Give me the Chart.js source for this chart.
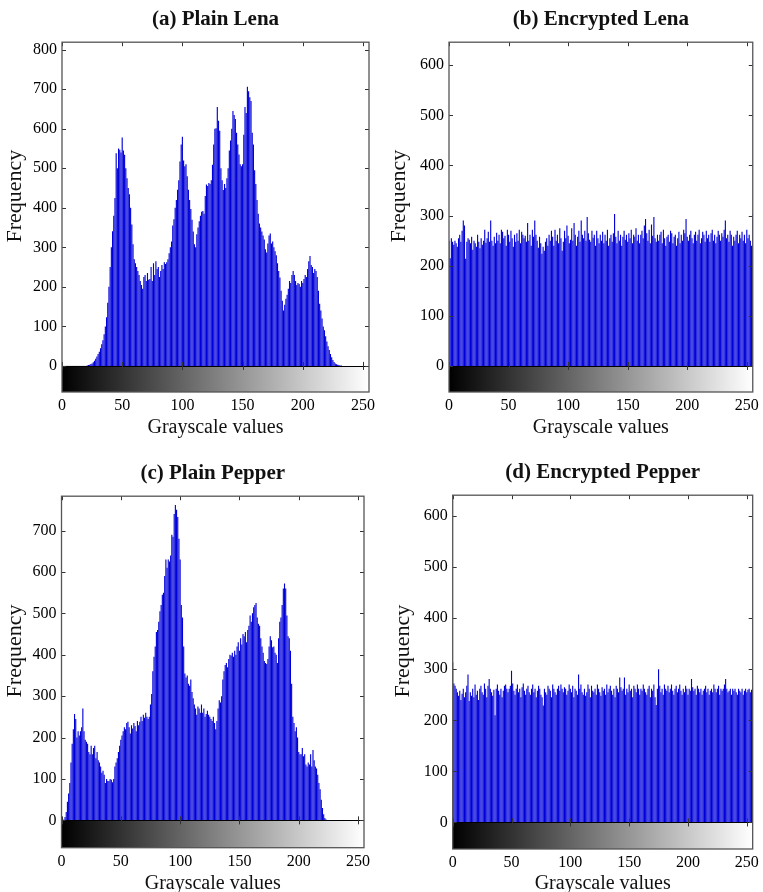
<!DOCTYPE html>
<html><head><meta charset="utf-8">
<script src="https://cdn.jsdelivr.net/npm/chart.js@4.4.1/dist/chart.umd.min.js"></script>
<style>
html,body{margin:0;padding:0;background:#fff;overflow:hidden;width:763px;height:892px;}
.panel{position:absolute;}
</style></head><body>
<div class="panel" style="left:0px;top:0px;width:381px;height:446px"><canvas id="ca"></canvas></div>
<div class="panel" style="left:381px;top:0px;width:382px;height:446px"><canvas id="cb"></canvas></div>
<div class="panel" style="left:0px;top:446px;width:381px;height:456px"><canvas id="cc"></canvas></div>
<div class="panel" style="left:381px;top:446px;width:382px;height:456px"><canvas id="cd"></canvas></div>
<script>
// ---------- data ----------
const grayLevels = Array.from({length: 256}, (_, i) => i);   // categories 0..255
const xTickValues = [0, 50, 100, 150, 200, 250];
const yTicksA = [0, 100, 200, 300, 400, 500, 600, 700, 800];
const yTicksB = [0, 100, 200, 300, 400, 500, 600];
const yTicksC = [0, 100, 200, 300, 400, 500, 600, 700];
const yTicksD = [0, 100, 200, 300, 400, 500, 600];
const titles = ['(a) Plain Lena', '(b) Encrypted Lena', '(c) Plain Pepper', '(d) Encrypted Pepper'];
const xTitle = 'Grayscale values';
const yTitle = 'Frequency';

const plainLena = [
  0,0,0,0,0,0,0,0,0,0,0,0,0,0,0,0,
  0,0,0,0,0,1,2,3,5,6,9,13,18,24,30,36,
  45,55,65,80,100,123,160,200,250,300,341,380,425,538,500,550,
  547,540,578,545,534,500,475,450,434,400,358,308,270,260,250,240,
  230,215,205,195,225,230,215,235,218,220,250,215,260,230,265,245,
  250,225,240,255,245,262,258,262,270,285,300,315,355,371,400,420,
  446,470,517,560,580,520,505,510,480,446,420,397,370,340,308,300,
  333,350,366,380,390,392,385,430,459,455,463,460,470,509,560,600,
  601,655,620,595,500,470,445,460,450,475,500,545,570,600,645,635,
  625,590,560,535,510,505,510,585,655,640,706,695,680,670,590,560,
  495,460,420,385,360,350,340,330,320,295,287,310,330,335,310,315,
  300,290,280,260,240,224,190,165,140,155,170,180,195,215,210,230,
  240,230,215,205,210,207,200,215,210,220,230,225,245,265,278,255,
  250,235,245,240,225,190,157,140,120,100,90,75,62,50,40,30,
  22,15,10,6,4,3,2,1,1,0,0,0,0,0,0,0,
  0,0,0,0,0,0,0,0,0,0,0,0,0,0,0,0
];
const encryptedLena = [
  250,215,255,248,242,250,245,238,255,262,248,270,290,280,214,248,
  255,252,245,258,232,250,245,238,262,248,235,255,242,250,272,246,
  255,268,248,290,250,240,258,245,266,250,262,245,272,268,255,260,
  240,272,262,248,270,255,238,262,248,265,250,272,245,268,262,255,
  260,248,285,250,262,240,272,258,290,262,250,236,258,245,224,238,
  230,248,255,240,262,250,270,258,240,272,250,262,245,275,255,230,
  248,270,255,280,260,245,252,275,250,285,262,240,258,270,248,290,
  262,255,270,250,297,265,252,248,270,256,262,240,270,255,245,262,
  250,268,245,262,250,272,240,255,262,248,265,303,258,245,270,250,
  262,240,258,270,252,262,248,265,255,272,245,262,258,275,250,262,
  245,262,270,255,280,293,265,250,272,245,282,260,297,255,248,262,
  250,262,268,245,272,255,240,258,262,248,270,265,245,258,262,240,
  255,268,245,262,250,272,265,293,258,250,262,270,255,245,262,268,
  250,262,272,245,255,268,262,248,270,255,262,248,265,272,250,262,
  245,258,270,262,250,265,258,272,290,255,262,248,270,262,240,258,
  250,262,270,245,262,255,268,250,262,245,272,255,262,250,240,303
];
const plainPepper = [
  0,0,2,8,20,45,65,90,140,185,220,257,245,200,215,205,
  215,225,270,215,195,190,185,165,160,180,160,175,180,150,165,145,
  140,130,115,120,110,90,100,95,95,100,98,92,100,130,140,150,
  165,180,195,205,215,225,220,235,238,225,210,230,222,235,228,215,
  240,230,238,250,240,255,248,260,250,245,250,280,305,360,395,420,
  455,460,480,505,520,545,550,590,630,610,630,625,640,690,685,740,
  762,750,733,680,630,520,490,420,355,345,350,330,325,340,310,295,
  280,270,255,275,270,260,280,260,270,250,257,265,255,250,245,240,
  250,235,220,240,270,290,285,300,340,360,375,380,370,390,400,398,
  405,395,410,400,420,430,410,440,425,450,445,455,430,460,470,495,
  480,500,515,520,525,490,475,470,440,420,405,385,380,378,390,420,
  445,435,418,420,405,400,380,440,480,490,520,560,572,560,495,445,
  440,410,330,250,235,215,225,200,165,160,160,175,155,160,135,130,
  140,135,160,130,170,145,130,125,110,90,75,50,30,15,6,2,
  0,0,0,0,0,0,0,0,0,0,0,0,0,0,0,0,
  0,0,0,0,0,0,0,0,0,0,0,0,0,0,0,0
];
const encryptedPepper = [
  314,272,268,262,255,248,258,240,252,262,245,255,268,290,238,255,
  248,262,245,270,250,258,240,262,268,255,250,272,262,245,268,281,
  262,255,248,260,210,262,270,258,250,262,245,258,268,270,262,255,
  262,268,297,272,258,250,262,270,255,262,245,265,272,258,250,262,
  268,255,250,262,270,255,262,245,258,268,262,250,245,229,262,255,
  250,268,262,258,245,270,262,255,250,262,268,258,270,262,255,265,
  262,250,258,270,262,255,268,245,262,258,250,290,262,270,255,250,
  262,248,255,270,262,245,268,258,255,262,250,270,262,255,248,265,
  258,262,250,270,255,262,268,258,250,262,245,268,262,255,284,265,
  258,262,284,250,262,255,270,258,262,245,268,262,255,270,262,250,
  262,258,270,262,255,250,262,268,245,262,258,270,245,230,262,300,
  268,255,262,250,270,262,258,268,255,262,270,258,250,262,268,255,
  262,270,258,250,262,255,268,262,250,262,258,281,265,258,262,250,
  268,262,255,262,250,258,262,268,255,262,250,258,262,255,270,262,
  255,262,268,250,262,258,262,270,281,262,255,258,262,250,262,258,
  262,255,250,262,258,255,262,250,258,262,255,260,262,255,260,265
];

// ---------- drawing ----------
const SERIF = '"Liberation Serif","Times New Roman",serif';

const framePlugin = {
  id: 'frame',
  beforeDatasetsDraw(chart) {
    const {ctx, chartArea: a, scales: {x, y}} = chart;
    const y0 = y.getPixelForValue(0);
    const x0 = x.getPixelForValue(grayLevels[0]);
    const x1 = x.getPixelForValue(grayLevels[grayLevels.length - 1]);
    const g = ctx.createLinearGradient(x0, 0, x1, 0);
    g.addColorStop(0, '#000000');
    g.addColorStop(1, '#ffffff');
    ctx.save();
    ctx.fillStyle = g;
    ctx.fillRect(a.left, y0, a.right - a.left, a.bottom - y0);
    ctx.restore();
  },
  afterDatasetsDraw(chart) {
    const {ctx, chartArea: a, scales: {x, y}} = chart;
    const y0 = y.getPixelForValue(0);
    ctx.save();
    ctx.lineWidth = 1;
    ctx.strokeStyle = '#000';
    ctx.beginPath();
    ctx.moveTo(a.left, Math.round(y0) + 0.5);
    ctx.lineTo(a.right, Math.round(y0) + 0.5);
    ctx.stroke();
    ctx.strokeStyle = '#333';
    ctx.beginPath();
    x.ticks.forEach(t => {
      const px = Math.round(x.getPixelForValue(t.value)) + 0.5;
      ctx.moveTo(px, a.top); ctx.lineTo(px, a.top + 4);
      ctx.moveTo(px, y0 - 4); ctx.lineTo(px, y0 + 4);
    });
    y.ticks.forEach(t => {
      if (t.value < 0) return;
      const py = Math.round(y.getPixelForValue(t.value)) + 0.5;
      ctx.moveTo(a.left, py); ctx.lineTo(a.left + 4, py);
      ctx.moveTo(a.right, py); ctx.lineTo(a.right - 4, py);
    });
    ctx.stroke();
    ctx.strokeStyle = '#555';
    ctx.lineWidth = 1.3;
    ctx.strokeRect(a.left, a.top, a.right - a.left, a.bottom - a.top);
    ctx.restore();
  },
  afterDraw(chart) {
    // y-axis title, placed slightly above the axis centre as in the original figure
    const {ctx, chartArea: a} = chart;
    const lay = chart.options.plugins.frame;
    ctx.save();
    ctx.font = '22px ' + SERIF;
    ctx.fillStyle = '#111';
    ctx.textAlign = 'center';
    ctx.textBaseline = 'middle';
    ctx.translate(lay.yTitleX, (a.top + a.bottom) / 2 - 21);
    ctx.rotate(-Math.PI / 2);
    ctx.fillText(yTitle, 0, 0);
    ctx.restore();
  }
};

function makeChart(id, title, values, yMin, yMax, yTicks, lay) {
  const points = values.map((v, i) => ({x: grayLevels[i], y: v}));
  return new Chart(document.getElementById(id), {
    type: 'bar',
    data: {datasets: [{
      data: points,
      backgroundColor: '#0000d8',
      borderWidth: 0,
      barPercentage: 0.94,
      categoryPercentage: 1
    }]},
    options: {
      responsive: true,
      maintainAspectRatio: false,
      animation: false,
      events: [],
      layout: {padding: {left: lay.padL, top: lay.padT, right: lay.padR, bottom: 0}},
      plugins: {
        legend: {display: false},
        tooltip: {enabled: false},
        frame: {yTitleX: lay.yTitleX},
        title: {
          display: true, text: title, fullSize: false, color: '#111',
          font: {family: SERIF, size: 21, weight: 'bold'},
          padding: {top: 7, bottom: 10}
        }
      },
      scales: {
        x: {
          type: 'linear', min: 0, max: 255, offset: false,
          grid: {display: false, drawTicks: false},
          border: {display: false},
          afterBuildTicks: s => { s.ticks = xTickValues.map(v => ({value: v})); },
          afterFit: s => { s.height = lay.xH; },
          ticks: {font: {family: SERIF, size: 16}, color: '#000', padding: 4, maxRotation: 0, autoSkip: false},
          title: {display: true, text: xTitle, color: '#111', font: {family: SERIF, size: 20}, padding: {top: 0, bottom: 6}}
        },
        y: {
          type: 'linear', min: yMin, max: yMax,
          grid: {display: false, drawTicks: false},
          border: {display: false},
          afterBuildTicks: s => { s.ticks = yTicks.map(v => ({value: v})); },
          afterFit: s => { s.width = lay.yW; },
          ticks: {font: {family: SERIF, size: 16}, color: '#000', padding: 5, autoSkip: false},
          title: {display: false, text: yTitle}
        }
      }
    },
    plugins: [framePlugin]
  });
}

makeChart('ca', titles[0], plainLena,      -66, 819, yTicksA, {padL: 0, padT: 0, padR: 12,  yW: 62,   xH: 54,   yTitleX: 15});
makeChart('cb', titles[1], encryptedLena,  -52, 646, yTicksB, {padL: 3, padT: 0, padR: 7,   yW: 65,   xH: 54,   yTitleX: 18});
makeChart('cc', titles[2], plainPepper,    -66, 783, yTicksC, {padL: 0, padT: 8, padR: 17,  yW: 61.5, xH: 54.3, yTitleX: 15});
makeChart('cd', titles[3], encryptedPepper,-52, 641, yTicksD, {padL: 7, padT: 7, padR: 5.7, yW: 64.7, xH: 53,   yTitleX: 22});
</script>
</body></html>
